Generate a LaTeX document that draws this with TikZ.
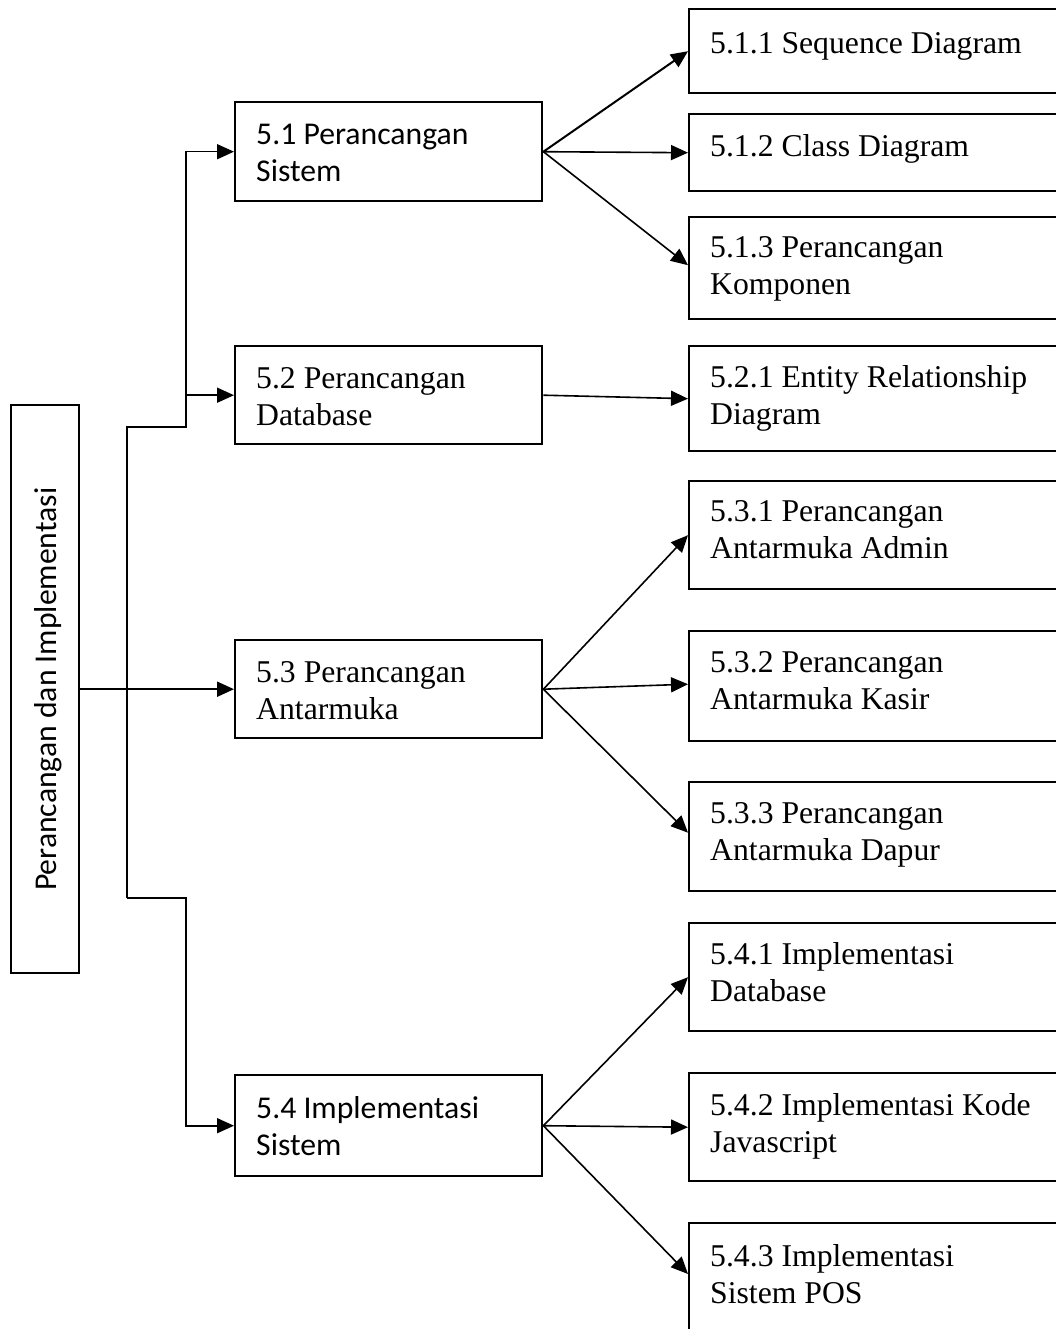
\documentclass[tikz,border=0pt]{standalone}
\usepackage{fontspec}
\setmainfont{Liberation Serif}
\newfontfamily\calibri{Carlito}
\usetikzlibrary{arrows.meta,calc}

% multi-line label whose baseline is the first line
\newcommand{\twolines}[1]{\begin{tabular}[t]{@{}l@{}}#1\end{tabular}}

\begin{document}
\begin{tikzpicture}[x=1pt,y=-1pt,
  frame/.style={draw, line width=2.4pt, anchor=north west, inner sep=0pt},
  midbox/.style={frame, minimum width=307},
  rbox/.style={frame, minimum width=420},
  txt/.style={anchor=base west, inner sep=0pt, font=\fontsize{31.7}{37}\selectfont},
  conn/.style={line width=1.6pt},
  arr/.style={conn, -{Triangle[length=17pt,width=15pt]}}]

\useasboundingbox (0,0) rectangle (1056,1329);
\fill[white] (0,0) rectangle (1056,1329);
\clip (0,0) rectangle (1056,1329);

% root box with vertical title
\node[frame, minimum width=68, minimum height=568] (lb) at (10,404) {};
\node[rotate=90, inner sep=0pt, font=\calibri\fontsize{31.7}{37}\selectfont] (lbt)
  at ($(lb.center)+(3,0)$) {Perancangan dan Implementasi};

% second level
\node[midbox, minimum height=99] (m51) at (234,101) {};
\node[midbox, minimum height=98] (m52) at (234,345) {};
\node[midbox, minimum height=98] (m53) at (234,639) {};
\node[midbox, minimum height=101] (m54) at (234,1074) {};
\node[txt, font=\calibri\fontsize{31.7}{37}\selectfont] (t51) at ($(m51.north west)+(22,44)$) {\twolines{5.1 Perancangan\\Sistem}};
\node[txt] (t52) at ($(m52.north west)+(22,43)$) {\twolines{5.2 Perancangan\\Database}};
\node[txt] (t53) at ($(m53.north west)+(22,43)$) {\twolines{5.3 Perancangan\\Antarmuka}};
\node[txt, font=\calibri\fontsize{31.7}{37}\selectfont] (t54) at ($(m54.north west)+(22,44)$) {\twolines{5.4 Implementasi\\Sistem}};

% third level
\node[rbox, minimum height=84] (b511) at (688,8) {};
\node[rbox, minimum height=77] (b512) at (688,113) {};
\node[rbox, minimum height=102] (b513) at (688,216) {};
\node[rbox, minimum height=105] (b521) at (688,345) {};
\node[rbox, minimum height=108] (b531) at (688,480) {};
\node[rbox, minimum height=110] (b532) at (688,630) {};
\node[rbox, minimum height=109] (b533) at (688,781) {};
\node[rbox, minimum height=108] (b541) at (688,922) {};
\node[rbox, minimum height=108] (b542) at (688,1072) {};
\node[rbox, minimum height=130] (b543) at (688,1222) {};

\node[txt] (t511) at ($(b511.north west)+(22,46)$) {\twolines{5.1.1 Sequence Diagram}};
\node[txt] (t512) at ($(b512.north west)+(22,44)$) {\twolines{5.1.2 Class Diagram}};
\node[txt] (t513) at ($(b513.north west)+(22,42)$) {\twolines{5.1.3 Perancangan\\Komponen}};
\node[txt] (t521) at ($(b521.north west)+(22,42)$) {\twolines{5.2.1 Entity Relationship\\Diagram}};
\node[txt] (t531) at ($(b531.north west)+(22,41)$) {\twolines{5.3.1 Perancangan\\Antarmuka Admin}};
\node[txt] (t532) at ($(b532.north west)+(22,42)$) {\twolines{5.3.2 Perancangan\\Antarmuka Kasir}};
\node[txt] (t533) at ($(b533.north west)+(22,42)$) {\twolines{5.3.3 Perancangan\\Antarmuka Dapur}};
\node[txt] (t541) at ($(b541.north west)+(22,42)$) {\twolines{5.4.1 Implementasi\\Database}};
\node[txt] (t542) at ($(b542.north west)+(22,43)$) {\twolines{5.4.2 Implementasi Kode\\Javascript}};
\node[txt] (t543) at ($(b543.north west)+(22,44)$) {\twolines{5.4.3 Implementasi\\Sistem POS}};

% trunk from the root
\coordinate (tr1) at (127,427);
\coordinate (tr2) at (186,427);
\coordinate (tr3) at (127,898);
\coordinate (tr4) at (186,898);
\coordinate (trm) at (127,688);
\draw[line width=2.2pt] (tr1) -- (trm);
\draw[conn] (trm) -- (tr3);
\draw[line width=2.8pt, line join=miter] (tr1 |- 0,428) |- (tr2) -- (tr2 |- m52.west);
\draw[arr] (tr2 |- m52.west) |- (m51.west);
\draw[arr] (tr2 |- m52.west) -- (m52.west);
\draw[arr, line width=2pt] (lb.east) -- (m53.west);
\draw[arr] (tr3) -- (tr4) |- (m54.west);

% fan-out to the sub-topics
\draw[arr, line width=2pt] (m51.east) -- (b511.west);
\draw[arr] (m51.east) -- (b512.west);
\draw[arr] (m51.east) -- ($(b513.west)+(0,-3)$);
\draw[arr] (m52.east) -- (b521.west);
\draw[arr] (m53.east) -- (b531.west);
\draw[arr] (m53.east) -- ($(b532.west)+(0,-2)$);
\draw[arr] (m53.east) -- ($(b533.west)+(0,-4)$);
\draw[arr] (m54.east) -- (b541.west);
\draw[arr] (m54.east) -- (b542.west);
\draw[arr] (m54.east) -- ($(b543.north west)+(0,52)$);
\end{tikzpicture}
\end{document}
